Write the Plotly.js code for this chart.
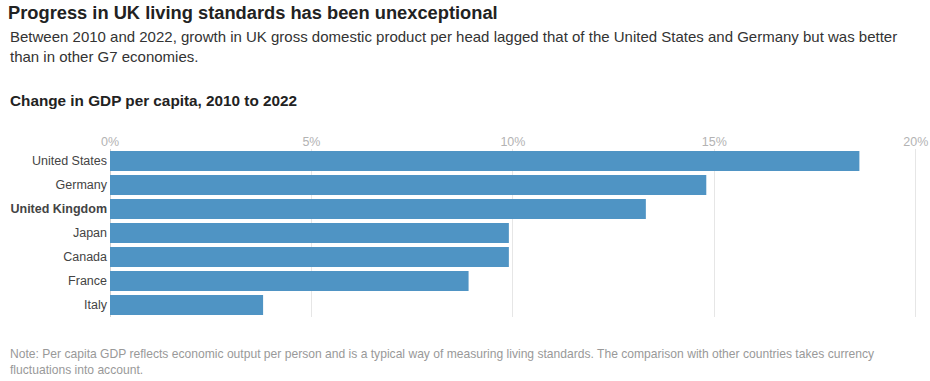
<!DOCTYPE html>
<html><head><meta charset="utf-8">
<script src="https://cdn.plot.ly/plotly-3.0.1.min.js"></script>
<style>html,body{margin:0;padding:0;background:#fff}#chart{width:930px;height:381px}</style>
</head><body><div id="chart"></div>
<script>
const countries = ["United States","Germany","United Kingdom","Japan","Canada","France","Italy"];
const gdpChange = [18.6, 14.8, 13.3, 9.9, 9.9, 8.9, 3.8];
const tickVals = [0, 5, 10, 15, 20];
const tickLabels = ["0%", "5%", "10%", "15%", "20%"];
const highlight = "United Kingdom";

const W = 930, H = 381;
const M = {l: 110, r: 13, t: 149, b: 64};
const pw = W - M.l - M.r, ph = H - M.t - M.b;
const px = x => (x - M.l) / pw;
const py = y => (H - M.b - y) / ph;
const FONT = "Liberation Sans, Arial, sans-serif";

function ann(text, x, y, size, color, extra) {
  return Object.assign({text, xref: "paper", yref: "paper", x: px(x), y: py(y),
    xanchor: "left", yanchor: "middle", showarrow: false, align: "left",
    font: {family: FONT, size, color}}, extra || {});
}

const data = [{
  type: "bar", orientation: "h",
  y: countries, x: gdpChange,
  marker: {color: "#4f94c4"},
  hoverinfo: "skip"
}];

const layout = {
  width: W, height: H, margin: M,
  paper_bgcolor: "#fff", plot_bgcolor: "#fff",
  bargap: 0.167,
  showlegend: false,
  font: {family: FONT},
  title: {text: "<b>Progress in UK living standards has been unexceptional</b>",
    xref: "container", yref: "container", x: 8 / W, xanchor: "left",
    y: 1 - 13 / H, yanchor: "middle", font: {family: FONT, size: 18.3, color: "#222"}},
  xaxis: {range: [0, 20.03], side: "top", tickvals: tickVals, ticktext: tickLabels,
    showgrid: true, gridcolor: "#e6e6e6", gridwidth: 1, zeroline: true, zerolinecolor: "#d0d0d0",
    zerolinewidth: 1, showline: false, ticks: "", fixedrange: true,
    tickfont: {family: FONT, size: 12.5, color: "#b3b3b3"}},
  yaxis: {categoryorder: "array", categoryarray: countries, autorange: "reversed",
    tickvals: countries,
    ticktext: countries.map(c => c === highlight ? "<b>" + c + "</b>" : c),
    ticks: "", showgrid: false, zeroline: false, showline: false, fixedrange: true,
    ticklabelstandoff: 2,
    tickfont: {family: FONT, size: 12.5, color: "#444"}},
  annotations: [
    ann("Between 2010 and 2022, growth in UK gross domestic product per head lagged that of the United States and Germany but was better<br>than in other G7 economies.", 8, 46.5, 15, "#333", {yanchor: "middle"}),
    ann("<b>Change in GDP per capita, 2010 to 2022</b>", 8, 101, 15.3, "#222"),
    ann("Note: Per capita GDP reflects economic output per person and is a typical way of measuring living standards. The comparison with other countries takes currency<br>fluctuations into account.", 8, 361.5, 12.1, "#999")
  ]
};

Plotly.newPlot("chart", data, layout, {displayModeBar: false, staticPlot: true});
</script></body></html>
